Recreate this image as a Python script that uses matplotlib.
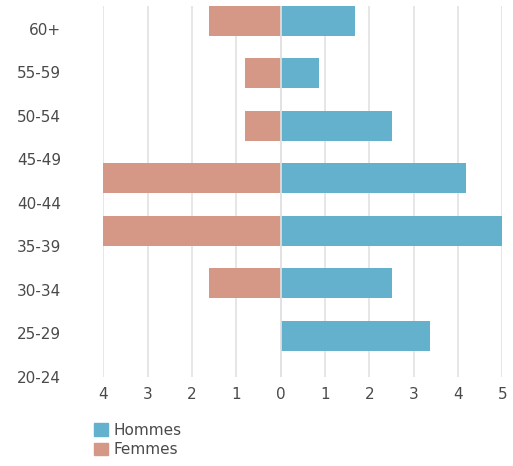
import matplotlib.pyplot as plt
from matplotlib.patches import Patch

# age labels shown on the left axis (top to bottom)
age_labels = ['60+', '55-59', '50-54', '45-49', '40-44', '35-39', '30-34', '25-29', '20-24']
# bar rows (top to bottom) as drawn in the chart
bar_rows = ['60+', '55-59', '50-54', '45-49', '35-39', '30-34', '25-29']
hommes = [1.68, 0.87, 2.51, 4.18, 5.0, 2.51, 3.37]
femmes = [-1.61, -0.80, -0.80, -4.0, -4.0, -1.61, 0.0]
x_ticks = [-4, -3, -2, -1, 0, 1, 2, 3, 4, 5]
x_ticklabels = ['4', '3', '2', '1', '0', '1', '2', '3', '4', '5']

c_h = '#63b1cd'
c_f = '#d69886'
c_txt = '#4a4a4a'
c_grid = '#e2e2e2'

plt.rcParams['font.family'] = 'DejaVu Sans'

fig = plt.figure(figsize=(5.13, 4.66), dpi=100)
rect = [103.3 / 513, 1 - 377 / 466, 399 / 513, 371 / 466]
ax = fig.add_axes(rect)

pos = list(range(len(bar_rows)))
ax.barh(pos, hommes, height=0.566, color=c_h, zorder=2)
ax.barh(pos, femmes, height=0.566, color=c_f, zorder=2)
ax.axvline(0, color=c_grid, lw=1.2, zorder=3)

ax.set_xlim(-4, 5)
ax.set_ylim(6.784, -0.283)
ax.set_xticks(x_ticks)
ax.set_xticklabels(x_ticklabels)
ax.set_yticks([])
ax.grid(axis='x', color=c_grid, lw=1.2, zorder=0)
ax.set_axisbelow(True)
for s in ax.spines.values():
    s.set_visible(False)
ax.tick_params(axis='x', length=0, pad=7, labelsize=11, labelcolor=c_txt)

# overlay axis carrying the age labels
ax2 = fig.add_axes(rect, frameon=False)
ax2.set_xticks([])
ax2.set_ylim(7.927, -0.524)
ax2.set_yticks(range(len(age_labels)))
ax2.set_yticklabels(age_labels)
ax2.tick_params(axis='y', length=0, pad=30.5, labelsize=11, labelcolor=c_txt)
ax2.patch.set_visible(False)

handles = [Patch(color=c_h, label='Hommes'), Patch(color=c_f, label='Femmes')]
fig.legend(handles=handles, loc='upper left', bbox_to_anchor=(94 / 513, 1 - 423 / 466),
           frameon=False, fontsize=11, handlelength=0.92, handleheight=0.92,
           handletextpad=0.35, labelspacing=0.28, borderpad=0, borderaxespad=0,
           labelcolor=c_txt)

fig.savefig('out.png', dpi=100)
